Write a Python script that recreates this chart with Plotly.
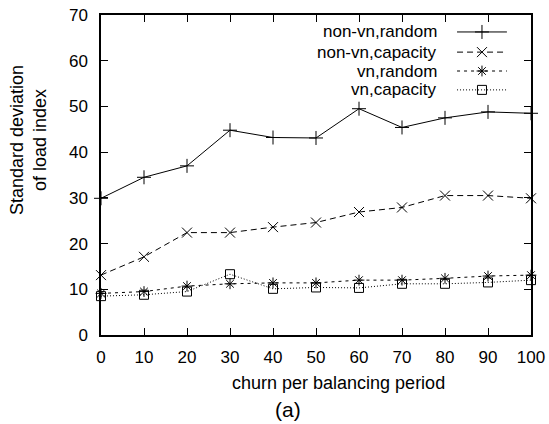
import plotly.graph_objects as go

churn = [0, 10, 20, 30, 40, 50, 60, 70, 80, 90, 100]
nonvn_random = [29.9, 34.5, 37.0, 44.8, 43.2, 43.1, 49.5, 45.4, 47.5, 48.8, 48.5]
nonvn_capacity = [13.1, 17.1, 22.4, 22.4, 23.6, 24.6, 26.9, 27.9, 30.5, 30.5, 29.9]
vn_random = [9.1, 9.5, 10.7, 11.2, 11.4, 11.4, 12.0, 12.0, 12.4, 12.9, 13.1]
vn_capacity = [8.5, 8.8, 9.5, 13.3, 10.1, 10.4, 10.3, 11.2, 11.2, 11.5, 12.0]
series_names = ["non-vn,random", "non-vn,capacity", "vn,random", "vn,capacity"]
y_ticks = [0, 10, 20, 30, 40, 50, 60, 70]
x_ticks = churn

FONT = "Liberation Sans, Arial, sans-serif"
styles = [
    dict(dash="solid", symbol="cross-thin-open", size=10),
    dict(dash="6px,4px", symbol="x-thin-open", size=10),
    dict(dash="3px,4px", symbol="asterisk-open", size=9),
    dict(dash="1px,2px", symbol="square-open", size=9),
]
all_series = [nonvn_random, nonvn_capacity, vn_random, vn_capacity]

fig = go.Figure()
for name, ys, st in zip(series_names, all_series, styles):
    fig.add_trace(go.Scatter(
        x=churn, y=ys, name=name, mode="lines+markers",
        line=dict(color="black", width=1, dash=st["dash"]),
        marker=dict(symbol=st["symbol"], size=st["size"], color="black",
                    line=dict(color="black", width=1)),
        cliponaxis=False, showlegend=False,
    ))

# custom gnuplot-style legend (text right-aligned, sample to the right)
leg_rows = [0.947, 0.884, 0.825, 0.766]
sx0, sx1, sxm, tx = 0.828, 0.944, 0.886, 0.786
for name, st, ry in zip(series_names, styles, leg_rows):
    fig.add_trace(go.Scatter(
        x=[sx0, sx1], y=[ry, ry], mode="lines", xaxis="x2", yaxis="y2",
        line=dict(color="black", width=1, dash=st["dash"]), showlegend=False,
        hoverinfo="skip"))
    fig.add_trace(go.Scatter(
        x=[sxm], y=[ry], mode="markers", xaxis="x2", yaxis="y2",
        marker=dict(symbol=st["symbol"], size=st["size"], color="black",
                    line=dict(color="black", width=1)),
        showlegend=False, hoverinfo="skip"))
    fig.add_annotation(x=tx, y=ry, xref="paper", yref="paper", text=name,
                       showarrow=False, xanchor="right", yanchor="middle",
                       font=dict(family=FONT, size=17, color="black"))

axis_common = dict(showline=True, linecolor="black", linewidth=1.5, mirror="ticks",
                   ticks="inside", ticklen=7, tickcolor="black", tickwidth=1,
                   showgrid=False, zeroline=False, automargin=False,
                   tickfont=dict(family=FONT, size=17, color="black"))

fig.update_layout(
    width=549, height=424,
    margin=dict(l=101, r=18, t=15, b=89),
    paper_bgcolor="white", plot_bgcolor="white",
    xaxis=dict(range=[0, 100], tickvals=x_ticks, ticklabelstandoff=6, **axis_common),
    yaxis=dict(range=[0, 70], tickvals=y_ticks, ticklabelstandoff=8, **axis_common),
    xaxis2=dict(range=[0, 1], overlaying="x", visible=False, automargin=False),
    yaxis2=dict(range=[0, 1], overlaying="y", visible=False, automargin=False),
    showlegend=False,
)

fig.add_annotation(x=(28 - 101) / 430, y=(335 - 140) / 320, xref="paper", yref="paper",
                   xanchor="center", yanchor="middle",
                   text="Standard deviation<br>of load index", showarrow=False,
                   textangle=-90, font=dict(family=FONT, size=18, color="black"))
fig.add_annotation(x=(338 - 101) / 430, y=(335 - 383) / 320, xref="paper", yref="paper",
                   xanchor="center", yanchor="middle",
                   text="churn per balancing period", showarrow=False,
                   font=dict(family=FONT, size=18, color="black"))
fig.add_annotation(x=(288 - 101) / 430, y=(335 - 409) / 320, xref="paper", yref="paper",
                   xanchor="center", yanchor="middle",
                   text="(a)", showarrow=False,
                   font=dict(family=FONT, size=21, color="black"))

fig.write_html("out.html", config={"displayModeBar": False},
               post_script="document.body.style.margin='0px';")
